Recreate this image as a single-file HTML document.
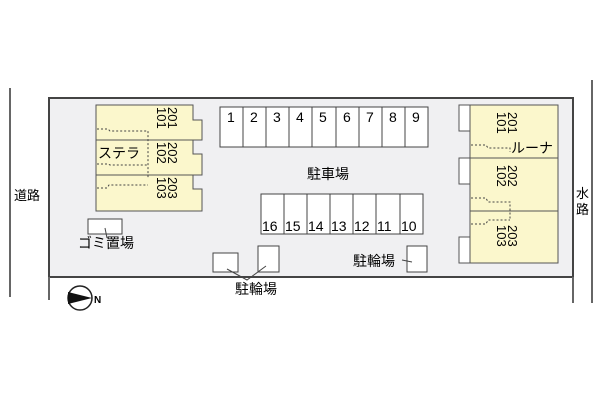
<!DOCTYPE html>
<html><head><meta charset="utf-8"><style>
body{margin:0;width:600px;height:400px;background:#fff;overflow:hidden;font-family:"Liberation Sans","Noto Sans CJK JP",sans-serif}
svg text{font-family:"Liberation Sans","Noto Sans CJK JP",sans-serif}
</style></head><body>
<svg width="600" height="400" xmlns="http://www.w3.org/2000/svg">
<line x1="10" y1="88" x2="10" y2="297" stroke="#666" stroke-width="2"/>
<line x1="592" y1="80" x2="592" y2="303" stroke="#666" stroke-width="2"/>
<rect x="49" y="98" width="524" height="179" fill="#f0f0f2" stroke="#444" stroke-width="2"/>
<line x1="49" y1="277" x2="49" y2="300" stroke="#666" stroke-width="2"/>
<line x1="573" y1="277" x2="573" y2="303" stroke="#666" stroke-width="2"/>
<text x="14" y="200" font-size="13">道路</text>
<text x="576" y="198" font-size="13">水</text><text x="576" y="214" font-size="13">路</text>
<!-- Stella -->
<path d="M96 105 H193 V120 H202 V140 H193 V154 H202 V175 H193 V189 H202 V211 H96 Z" fill="#fbf7cc" stroke="#555"/>
<line x1="96" y1="140" x2="193" y2="140" stroke="#555"/>
<line x1="96" y1="175" x2="193" y2="175" stroke="#555"/>
<path d="M97 129 H108 L110 131 H148 V178 M97 164 H108 L110 165 H148 M97 188 H107 L109 185 H148" fill="none" stroke="#444" stroke-dasharray="2,2"/>
<text x="98" y="158" font-size="14">ステラ</text>
<g font-size="13">
<text transform="translate(168,107) rotate(90)">201</text><text transform="translate(157,107) rotate(90)">101</text>
<text transform="translate(168,142) rotate(90)">202</text><text transform="translate(157,142) rotate(90)">102</text>
<text transform="translate(168,177) rotate(90)">203</text><text transform="translate(157,177) rotate(90)">103</text>
</g>
<!-- parking -->
<g fill="#fff" stroke="#444">
<rect x="220" y="107" width="208" height="40"/>
<rect x="261" y="194" width="162" height="40"/>
</g>
<g stroke="#444">
<line x1="243" y1="107" x2="243" y2="147"/><line x1="266" y1="107" x2="266" y2="147"/><line x1="289" y1="107" x2="289" y2="147"/><line x1="312" y1="107" x2="312" y2="147"/><line x1="336" y1="107" x2="336" y2="147"/><line x1="359" y1="107" x2="359" y2="147"/><line x1="382" y1="107" x2="382" y2="147"/><line x1="405" y1="107" x2="405" y2="147"/>
<line x1="284" y1="194" x2="284" y2="234"/><line x1="307" y1="194" x2="307" y2="234"/><line x1="330" y1="194" x2="330" y2="234"/><line x1="353" y1="194" x2="353" y2="234"/><line x1="376" y1="194" x2="376" y2="234"/><line x1="400" y1="194" x2="400" y2="234"/>
</g>
<g font-size="14">
<text x="227" y="122">1</text><text x="250" y="122">2</text><text x="273" y="122">3</text><text x="296" y="122">4</text><text x="319" y="122">5</text><text x="343" y="122">6</text><text x="366" y="122">7</text><text x="389" y="122">8</text><text x="412" y="122">9</text>
<text x="262" y="231">16</text><text x="285" y="231">15</text><text x="308" y="231">14</text><text x="331" y="231">13</text><text x="354" y="231">12</text><text x="377" y="231">11</text><text x="401" y="231">10</text>
</g>
<text x="307" y="179" font-size="14">駐車場</text>
<!-- bikes -->
<g fill="#fff" stroke="#444">
<rect x="213" y="253" width="25" height="19"/><rect x="258" y="246" width="21" height="26"/><rect x="407" y="246" width="20" height="26"/>
<rect x="88" y="219" width="34" height="15"/>
</g>
<path d="M227 269 L247 280 L266 266 M402 260 L412 262 M105 228 L107 238" fill="none" stroke="#444"/>
<text x="235" y="294" font-size="14">駐輪場</text>
<text x="353" y="266" font-size="14">駐輪場</text>
<text x="78" y="248" font-size="14">ゴミ置場</text>
<!-- Luna -->
<rect x="470" y="105" width="88" height="158" fill="#fbf7cc" stroke="#555"/>
<line x1="470" y1="158" x2="558" y2="158" stroke="#555"/>
<line x1="470" y1="211" x2="558" y2="211" stroke="#555"/>
<g fill="#fff" stroke="#555"><rect x="459" y="105" width="11" height="26"/><rect x="459" y="158" width="11" height="26"/><rect x="459" y="237" width="11" height="26"/></g>
<path d="M471 145 H486 L488 148 H510 V152 M471 198 H486 L488 202 H510 V220 M471 224 H486 L488 220 H510" fill="none" stroke="#444" stroke-dasharray="2,2"/>
<text x="511" y="153" font-size="14">ルーナ</text>
<g font-size="13">
<text transform="translate(508,112) rotate(90)">201</text><text transform="translate(497,112) rotate(90)">101</text>
<text transform="translate(508,165) rotate(90)">202</text><text transform="translate(497,165) rotate(90)">102</text>
<text transform="translate(508,225) rotate(90)">203</text><text transform="translate(497,225) rotate(90)">103</text>
</g>
<!-- compass -->
<circle cx="80" cy="298" r="12" fill="#fff" stroke="#222" stroke-width="1.5"/>
<path d="M68 292 L92 298 L68 304 Z" fill="#111"/>
<text x="94" y="303" font-size="10" font-weight="bold">N</text>
</svg>
</body></html>
